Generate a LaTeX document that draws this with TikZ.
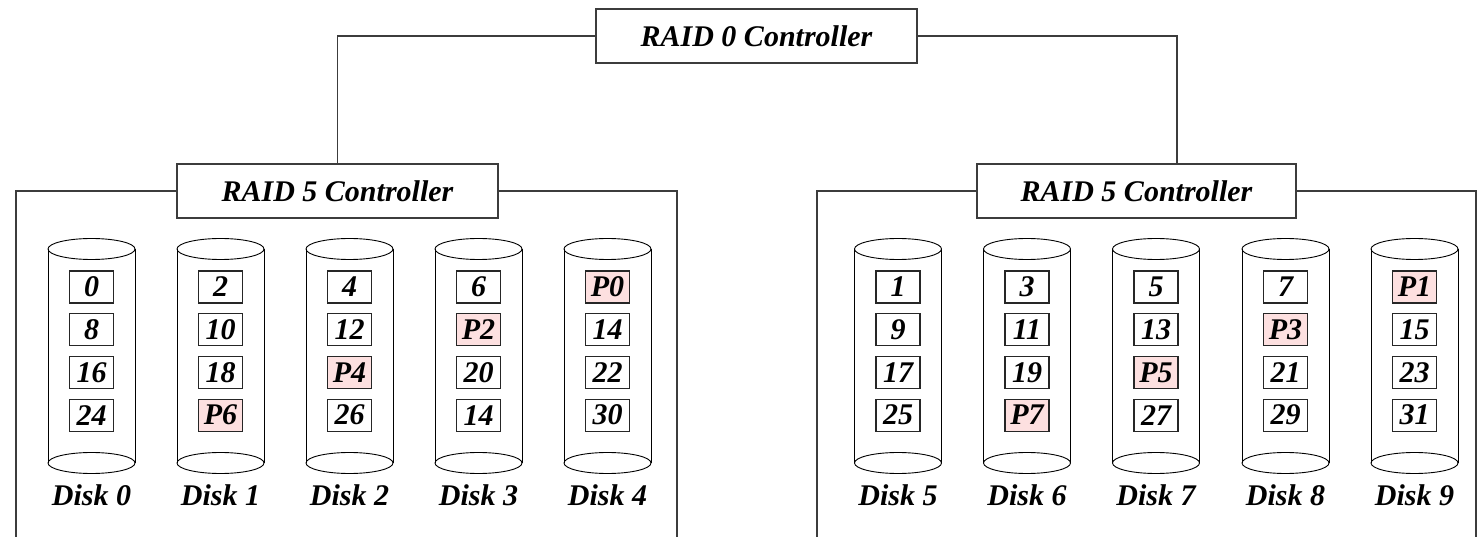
\documentclass[tikz,border=0pt]{standalone}
\usepackage{fontspec}
\setmainfont{Liberation Serif}
\usetikzlibrary{calc}
\definecolor{wire}{RGB}{60,60,60}
\definecolor{paritypink}{RGB}{253,224,224}
\begin{document}
\begin{tikzpicture}[x=1pt,y=-1pt,
  lbl/.style={font=\fontsize{30}{36}\selectfont\bfseries\itshape},
  ctrl/.style={lbl,draw=wire,line width=1.2pt,fill=white,minimum width=321pt,minimum height=54pt,inner sep=0pt},
  wireline/.style={draw=wire,line width=1.2pt},
  cyl/.style={draw=black,line width=0.9pt},
  datacell/.style={lbl,draw=black!85,line width=1.1pt,fill=white,minimum width=44pt,minimum height=32pt,inner sep=0pt},
  paritycell/.style={datacell,fill=paritypink},
  disklabel/.style={lbl,inner sep=0pt}]
\useasboundingbox (0,0) rectangle (1484,537);

% controllers
\node[ctrl] (r0) at (756.5,36) {RAID 0 Controller};
\node[ctrl] (r5a) at (337.5,191) {RAID 5 Controller};
\node[ctrl,minimum width=319pt] (r5b) at (1136.5,191) {RAID 5 Controller};

% links from the RAID 0 controller
\draw[wireline] (r0.west) -| (r5a.north);
\draw[wireline] (r0.east) -| ($(r5b.north)+(40.5,0)$);

% open enclosures around each RAID 5 group
\coordinate (encAL) at (16,537);
\coordinate (encAR) at (677,537);
\coordinate (encBL) at (817,537);
\coordinate (encBR) at (1476,537);
\draw[wireline] (r5a.west) -| (encAL);
\draw[wireline] (r5a.east) -| (encAR);
\draw[wireline] (r5b.west) -| (encBL);
\draw[wireline] (r5b.east) -| (encBR);

% disks with their stripe blocks
\foreach \x/\n/\cells in {
  91.5/0/{0/datacell,8/datacell,16/datacell,24/datacell},
  220.5/1/{2/datacell,10/datacell,18/datacell,P6/paritycell},
  349.5/2/{4/datacell,12/datacell,P4/paritycell,26/datacell},
  478.5/3/{6/datacell,P2/paritycell,20/datacell,14/datacell},
  607.5/4/{P0/paritycell,14/datacell,22/datacell,30/datacell},
  898/5/{1/datacell,9/datacell,17/datacell,25/datacell},
  1027/6/{3/datacell,11/datacell,19/datacell,P7/paritycell},
  1156/7/{5/datacell,13/datacell,P5/paritycell,27/datacell},
  1285.5/8/{7/datacell,P3/paritycell,21/datacell,29/datacell},
  1414.5/9/{P1/paritycell,15/datacell,23/datacell,31/datacell}}{
  \draw[cyl] (\x-43.5,249) -- (\x-43.5,463);
  \draw[cyl] (\x+43.5,249) -- (\x+43.5,463);
  \draw[cyl] (\x,249) ellipse (43.5 and 10.5);
  \draw[cyl] (\x,463) ellipse (43.5 and 10.5);
  \foreach \t/\s [count=\i from 0] in \cells {
    \node[\s] (blk-\n-\i) at (\x,287+42.7*\i) {\t};
  }
  \node[disklabel] (disk-\n) at (\x,495) {Disk \n};
}
\end{tikzpicture}
\end{document}
